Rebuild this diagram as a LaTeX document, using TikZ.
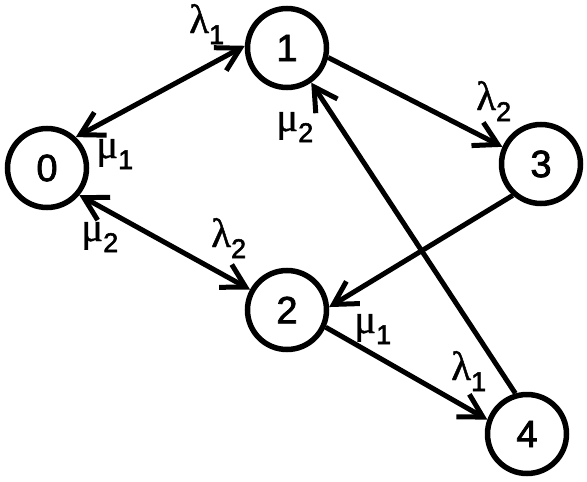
\documentclass[tikz,border=0pt]{standalone}
\usepackage{fontspec}
\setmainfont{Liberation Sans}
\newfontfamily\numfont{Liberation Sans}[FakeBold=2]
\newfontfamily\grkfont{Liberation Serif}[FakeBold=1]
\usetikzlibrary{arrows.meta}
\newcommand\glab[2]{{\fontsize{41}{41}\selectfont\grkfont #1}\raisebox{-11pt}{\fontsize{27}{27}\selectfont\numfont #2}}
\begin{document}
\begin{tikzpicture}[x=1pt,y=-1pt,
  state/.style={circle,draw,line width=5.5pt,minimum size=79pt,inner sep=0pt,font=\fontsize{38}{38}\selectfont\numfont},
  edge/.style={line width=5pt,-{Straight Barb[length=23pt,width=26pt,sharp]}},
  biedge/.style={line width=5pt,{Straight Barb[length=23pt,width=26pt,sharp]}-{Straight Barb[length=23pt,width=26pt,sharp]}},
  lab/.style={inner sep=0pt,anchor=base west}]
\useasboundingbox (0,0) rectangle (587,482);
\node[state] (n0) at (47,168) {0};
\node[state] (n1) at (287,48) {1};
\node[state] (n3) at (541,164) {3};
\node[state] (n2) at (287,310) {2};
\node[state] (n4) at (527,434) {4};
\draw[biedge] (n0.47.7) -- (n1.177);
\draw[biedge] (n0.-40.6) -- (n2.151.6);
\draw[edge] (n1.-13) -- (n3.156);
\draw[edge] (n3.228.7) -- (n2.4);
\draw[edge] (n2.-24) -- (n4.160);
\draw[edge] (n4.106) -- (n1.-55);
\node[lab] (l01) at (189,33) {\glab{λ}{1}};
\node[lab] (m10) at (96,158) {\glab{μ}{1}};
\node[lab] (m20) at (81,241) {\glab{μ}{2}};
\node[lab] (l02) at (211,247) {\glab{λ}{2}};
\node[lab] (m21) at (276,131) {\glab{μ}{2}};
\node[lab] (l23) at (476,110) {\glab{λ}{2}};
\node[lab] (m12) at (354,333) {\glab{μ}{1}};
\node[lab] (l14) at (451,380) {\glab{λ}{1}};
\end{tikzpicture}
\end{document}
